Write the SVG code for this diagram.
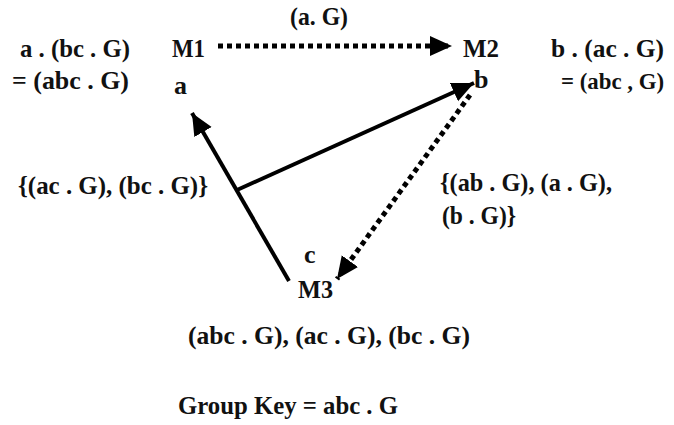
<svg xmlns="http://www.w3.org/2000/svg" width="674" height="425" viewBox="0 0 674 425">
<style>
text{font-family:'Liberation Serif','Times New Roman',serif;font-weight:bold;font-size:26px;fill:#111}
.solid{stroke:#000;stroke-width:4;fill:none}
.dot{stroke:#000;stroke-width:5;fill:none;stroke-dasharray:5 4}
</style>
<defs>
<marker id="ah" markerUnits="userSpaceOnUse" markerWidth="24" markerHeight="22" refX="22" refY="10" orient="auto" viewBox="0 0 24 22">
<path d="M0,0 L22,10 L0,20 z" fill="#000"/>
</marker>
</defs>
<rect width="674" height="425" fill="#fff"/>
<g id="connectors">
<line class="dot" x1="218" y1="46" x2="452" y2="46" marker-end="url(#ah)"/>
<line class="solid" x1="289" y1="281" x2="192" y2="113" marker-end="url(#ah)"/>
<line class="solid" x1="237" y1="190" x2="474" y2="83" marker-end="url(#ah)"/>
<line class="dot" x1="470" y1="95" x2="337" y2="279" marker-end="url(#ah)"/>
</g>
<g id="M1">
<text x="172" y="57" textLength="33" lengthAdjust="spacingAndGlyphs">M1</text>
<text x="174" y="94">a</text>
</g>
<g id="M2">
<text x="463" y="57" textLength="36" lengthAdjust="spacingAndGlyphs">M2</text>
<text x="474" y="88">b</text>
</g>
<g id="M3">
<text x="304" y="263">c</text>
<text x="298" y="298" textLength="35" lengthAdjust="spacingAndGlyphs">M3</text>
</g>
<g id="labels">
<text x="290" y="25" textLength="58" lengthAdjust="spacingAndGlyphs">(a. G)</text>
<text x="20" y="57" textLength="110" lengthAdjust="spacingAndGlyphs">a . (bc . G)</text>
<text x="12" y="89" textLength="117" lengthAdjust="spacingAndGlyphs">= (abc . G)</text>
<text x="551" y="57" textLength="113" lengthAdjust="spacingAndGlyphs">b .  (ac . G)</text>
<text x="561" y="89" style="font-size:24px" textLength="103" lengthAdjust="spacingAndGlyphs">= (abc , G)</text>
<text x="18" y="194" textLength="190" lengthAdjust="spacingAndGlyphs">{(ac . G),  (bc . G)}</text>
<text x="440" y="191" textLength="172" lengthAdjust="spacingAndGlyphs">{(ab . G),  (a . G),</text>
<text x="442" y="224" textLength="74" lengthAdjust="spacingAndGlyphs">(b . G)}</text>
<text x="188" y="344" textLength="282" lengthAdjust="spacingAndGlyphs">(abc . G),  (ac . G),  (bc . G)</text>
<text x="178" y="414" textLength="220" lengthAdjust="spacingAndGlyphs">Group Key = abc . G</text>
</g>
</svg>
